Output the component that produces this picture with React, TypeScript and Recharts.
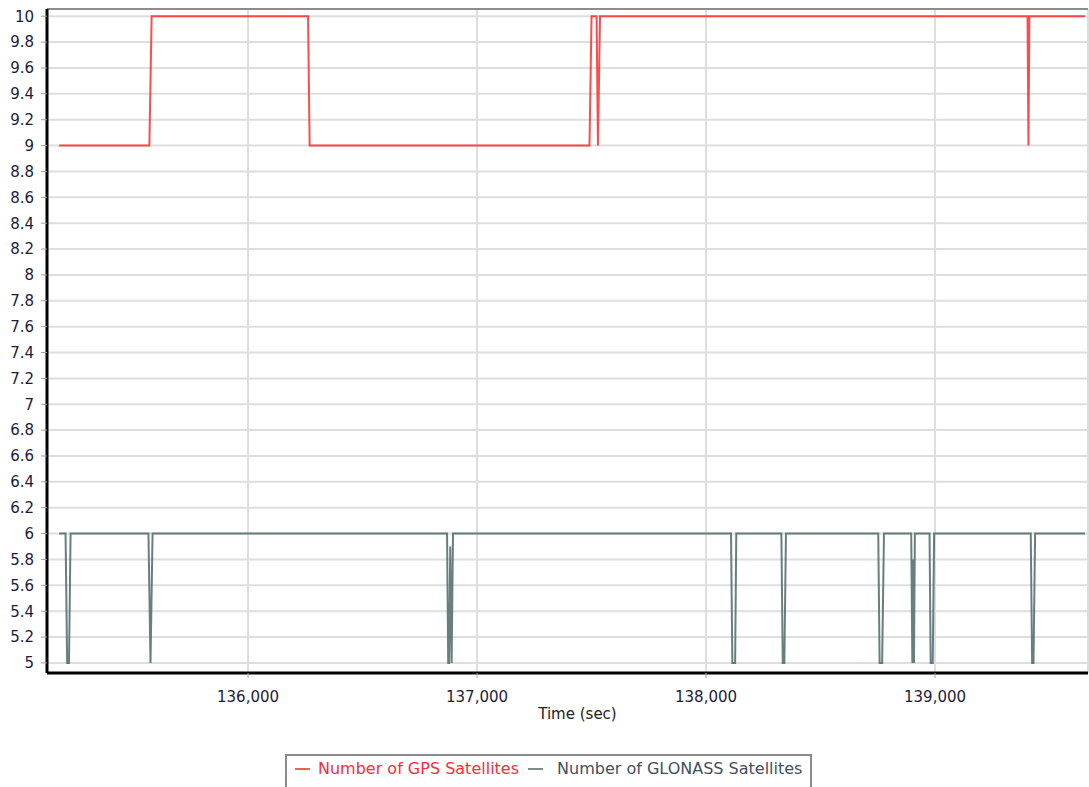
import React from 'react';
import { LineChart, Line, XAxis, YAxis, CartesianGrid, ReferenceLine } from 'recharts';

// GPS satellites count over time
const gpsTime = [135175, 135569, 135579, 136262, 136269, 137491, 137500, 137522, 137528, 137537, 139404, 139408, 139412, 139655];
const gpsCount = [9, 9, 10, 10, 9, 9, 10, 10, 9, 10, 10, 9, 10, 10];

// GLONASS satellites count over time
const glonassTime = [
  135175, 135203, 135210, 135218, 135225,
  135565, 135574, 135583,
  136869, 136874, 136878, 136883, 136889, 136895,
  138109, 138115, 138127, 138132,
  138329, 138335, 138342, 138349,
  138752, 138758, 138769, 138777,
  138896, 138901, 138904, 138908, 138912,
  138976, 138981, 138990, 138996,
  139418, 139424, 139430, 139437,
  139655,
];
const glonassCount = [
  6, 6, 5, 5, 6,
  6, 5, 6,
  6, 5, 5, 5.9, 5, 6,
  6, 5, 5, 6,
  6, 5, 5, 6,
  6, 5, 5, 6,
  6, 5, 5.8, 5, 6,
  6, 5, 5, 6,
  6, 5, 5, 6,
  6,
];

const xTicks = [136000, 137000, 138000, 139000];
const xMinorTicks = [135200, 135400, 135600, 135800, 136000, 136200, 136400, 136600, 136800, 137000, 137200, 137400, 137600, 137800, 138000, 138200, 138400, 138600, 138800, 139000, 139200, 139400, 139600];
const yTicks = [5, 5.2, 5.4, 5.6, 5.8, 6, 6.2, 6.4, 6.6, 6.8, 7, 7.2, 7.4, 7.6, 7.8, 8, 8.2, 8.4, 8.6, 8.8, 9, 9.2, 9.4, 9.6, 9.8, 10];
const yMinorTicks = Array.from({ length: 256 }, (_, i) => Math.round((4.94 + i * 0.02) * 100) / 100);

const xDomain: [number, number] = [135122, 139668];
const yDomain: [number, number] = [4.922, 10.056];

const gpsData = gpsTime.map((t, i) => ({ t, v: gpsCount[i] }));
const glonassData = glonassTime.map((t, i) => ({ t, v: glonassCount[i] }));

const FONT = '"DejaVu Sans", Verdana, sans-serif';
const LABEL_COLOR = '#1c1c3c';

function LegendBox() {
  return (
    <div
      style={{
        position: 'absolute',
        left: 285,
        top: 754,
        border: '2px solid #8a8a8a',
        borderBottom: 'none',
        height: 40,
        boxSizing: 'border-box',
        paddingTop: 3,
        paddingLeft: 8,
        paddingRight: 8,
        display: 'flex',
        alignItems: 'flex-start',
        fontFamily: FONT,
        fontSize: 16,
        lineHeight: '20px',
        whiteSpace: 'nowrap',
        background: '#fff',
      }}
    >
      <span style={{ display: 'inline-block', width: 15, height: 2, background: '#ff5a5a', marginTop: 9, marginRight: 8 }} />
      <span style={{ color: '#ff2a3a', marginRight: 9 }}>Number of GPS Satellites</span>
      <span style={{ display: 'inline-block', width: 15, height: 2, background: '#7a8c8c', marginTop: 9, marginRight: 14 }} />
      <span style={{ color: '#3f4f62' }}>Number of GLONASS Satellites</span>
    </div>
  );
}

export default function App() {
  return (
    <div style={{ position: 'relative', width: 1089, height: 787, background: '#fff', overflow: 'hidden' }}>
      <style>{'body{margin:0;}'}</style>
      <LineChart width={1089} height={787} margin={{ top: 9, right: 1, bottom: 64, left: 0 }}>
        <CartesianGrid stroke="#dedede" strokeWidth={2} />
        <XAxis
          xAxisId="minor"
          dataKey="t"
          type="number"
          domain={xDomain}
          ticks={xMinorTicks}
          allowDataOverflow
          tick={false}
          axisLine={false}
          tickLine={{ stroke: '#a0a0a0', strokeWidth: 1 }}
          tickSize={4}
          height={0}
        />
        <XAxis
          dataKey="t"
          type="number"
          domain={xDomain}
          ticks={xTicks}
          allowDataOverflow
          tickFormatter={(v: number) => v.toLocaleString('en-US')}
          height={50}
          tickSize={5}
          tickMargin={13}
          axisLine={{ stroke: '#000', strokeWidth: 3 }}
          tickLine={{ stroke: '#a0a0a0', strokeWidth: 1 }}
          tick={{ fill: LABEL_COLOR, fontSize: 15, fontFamily: FONT }}
          label={{ value: 'Time (sec)', position: 'insideBottom', offset: 4, dx: 10, fill: '#222', fontSize: 15, fontFamily: FONT }}
        />
        <YAxis
          yAxisId="minor"
          type="number"
          domain={yDomain}
          ticks={yMinorTicks}
          allowDataOverflow
          tick={false}
          axisLine={false}
          tickLine={{ stroke: '#a8a8a8', strokeWidth: 1 }}
          tickSize={3}
          width={0}
        />
        <YAxis
          type="number"
          domain={yDomain}
          ticks={yTicks}
          allowDataOverflow
          width={47}
          tickSize={6}
          tickMargin={7}
          axisLine={{ stroke: '#000', strokeWidth: 3 }}
          tickLine={{ stroke: '#a0a0a0', strokeWidth: 1 }}
          tick={{ fill: LABEL_COLOR, fontSize: 15, fontFamily: FONT }}
          interval={0}
        />
        <ReferenceLine y={yDomain[1]} stroke="#8c8c8c" strokeWidth={2} />
        <Line
          data={gpsData}
          dataKey="v"
          type="linear"
          stroke="#ff2b2b"
          strokeOpacity={0.85}
          strokeWidth={2}
          dot={false}
          activeDot={false}
          isAnimationActive={false}
        />
        <Line
          data={glonassData}
          dataKey="v"
          type="linear"
          stroke="#4d6868"
          strokeOpacity={0.85}
          strokeWidth={2}
          dot={false}
          activeDot={false}
          isAnimationActive={false}
        />
      </LineChart>
      <LegendBox />
    </div>
  );
}
